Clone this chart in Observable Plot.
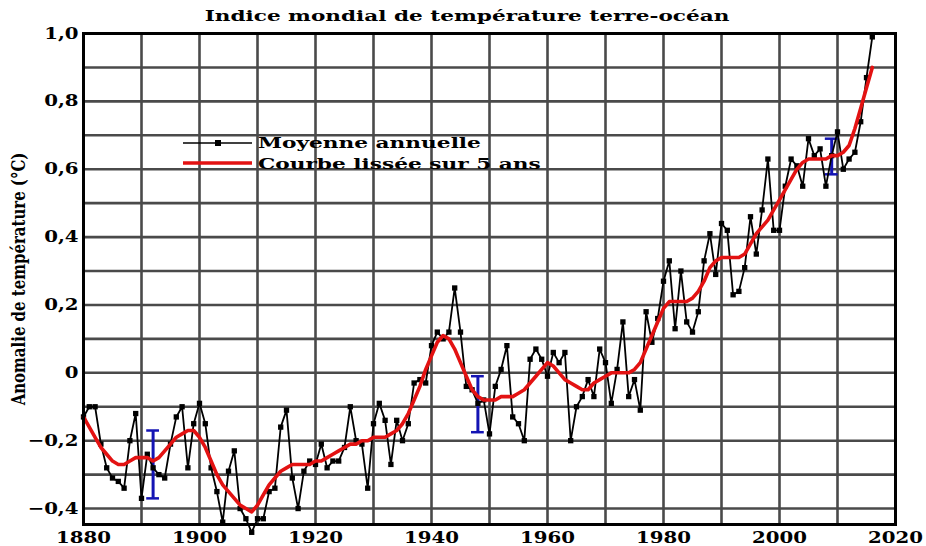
<!DOCTYPE html>
<html><head><meta charset="utf-8">
<script src="https://cdn.jsdelivr.net/npm/d3@7"></script>
<script src="https://cdn.jsdelivr.net/npm/@observablehq/plot@0.6"></script>
<style>
body{margin:0;background:#fff;}
svg{display:block;}
</style>
</head><body><div id="chart"></div>
<script>
const title = "Indice mondial de température terre-océan";
const yLabel = "Anomalie de température (°C)";
const legendLabels = ["Moyenne annuelle", "Courbe lissée sur 5 ans"];

const firstYear = 1880;
// Annual mean anomaly (°C), 1880–2016
const annual = [
  -0.13,-0.10,-0.10,-0.21,-0.28,-0.31,-0.32,-0.34,-0.20,-0.12,
  -0.37,-0.24,-0.28,-0.30,-0.31,-0.21,-0.13,-0.10,-0.28,-0.15,
  -0.09,-0.15,-0.28,-0.35,-0.44,-0.29,-0.23,-0.40,-0.43,-0.47,
  -0.43,-0.43,-0.35,-0.34,-0.16,-0.11,-0.31,-0.40,-0.29,-0.26,
  -0.27,-0.21,-0.28,-0.26,-0.26,-0.22,-0.10,-0.20,-0.21,-0.34,
  -0.15,-0.09,-0.14,-0.27,-0.14,-0.20,-0.15,-0.03,-0.02,-0.03,
   0.08, 0.12, 0.10, 0.12, 0.25, 0.12,-0.04,-0.05,-0.09,-0.08,
  -0.18,-0.04, 0.01, 0.08,-0.13,-0.15,-0.20, 0.04, 0.07, 0.04,
  -0.01, 0.06, 0.03, 0.06,-0.20,-0.10,-0.07,-0.02,-0.07, 0.07,
   0.03,-0.09, 0.01, 0.15,-0.07,-0.02,-0.11, 0.18, 0.09, 0.16,
   0.27, 0.33, 0.13, 0.30, 0.15, 0.12, 0.18, 0.33, 0.41, 0.29,
   0.44, 0.42, 0.23, 0.24, 0.31, 0.46, 0.35, 0.48, 0.63, 0.42,
   0.42, 0.55, 0.63, 0.61, 0.55, 0.69, 0.64, 0.66, 0.55, 0.64,
   0.71, 0.60, 0.63, 0.65, 0.74, 0.87, 0.99
];
// 5-year smoothed curve (°C), 1880–2016
const smooth = [
  -0.13,-0.16,-0.19,-0.22,-0.24,-0.26,-0.27,-0.27,-0.26,-0.25,
  -0.25,-0.25,-0.26,-0.25,-0.23,-0.21,-0.19,-0.18,-0.17,-0.17,
  -0.19,-0.22,-0.26,-0.30,-0.33,-0.35,-0.37,-0.39,-0.40,-0.41,
  -0.39,-0.36,-0.33,-0.31,-0.29,-0.28,-0.27,-0.27,-0.27,-0.27,
  -0.26,-0.26,-0.25,-0.24,-0.23,-0.22,-0.21,-0.21,-0.20,-0.20,
  -0.19,-0.19,-0.19,-0.18,-0.17,-0.15,-0.12,-0.08,-0.04, 0.01,
   0.05, 0.09, 0.11, 0.10, 0.07, 0.03,-0.01,-0.05,-0.07,-0.08,
  -0.08,-0.08,-0.07,-0.07,-0.07,-0.06,-0.05,-0.03,-0.01, 0.01,
   0.03, 0.02, 0.00,-0.02,-0.03,-0.04,-0.05,-0.05,-0.03,-0.02,
  -0.01, 0.00, 0.00, 0.00, 0.00, 0.01, 0.03, 0.07, 0.11, 0.15,
   0.19, 0.21, 0.21, 0.21, 0.21, 0.22, 0.24, 0.27, 0.31, 0.33,
   0.34, 0.34, 0.34, 0.34, 0.35, 0.38, 0.41, 0.43, 0.45, 0.48,
   0.51, 0.54, 0.57, 0.60, 0.62, 0.63, 0.63, 0.63, 0.63, 0.64,
   0.64, 0.65, 0.67, 0.72, 0.78, 0.84, 0.90
];

// Uncertainty bars
const errYears  = [1892, 1948, 2009];
const errLow    = [-0.37, -0.175, 0.585];
const errHigh   = [-0.17, -0.01, 0.69];

// Grid and ticks
const xGrid = [1880,1890,1900,1910,1920,1930,1940,1950,1960,1970,1980,1990,2000,2010,2020];
const yGrid = [-0.4,-0.3,-0.2,-0.1,0,0.1,0.2,0.3,0.4,0.5,0.6,0.7,0.8,0.9,1.0];
const xTicks = [1880,1900,1920,1940,1960,1980,2000,2020];
const xTickLabels = ["1880","1900","1920","1940","1960","1980","2000","2020"];
const yTicks = [-0.4,-0.2,0,0.2,0.4,0.6,0.8,1.0];
const yTickLabels = ["−0,4","−0,2","0","0,2","0,4","0,6","0,8","1,0"];

const data = annual.map((v, i) => ({year: firstYear + i, annual: v, smooth: smooth[i]}));
const errData = errYears.map((y, i) => ({year: y, lo: errLow[i], hi: errHigh[i]}));

const FONT = "DejaVu Serif";
const gridColor = "#4a4a4a";

const chart = Plot.plot({
  width: 926,
  height: 546,
  marginLeft: 83,
  marginRight: 31,
  marginTop: 33,
  marginBottom: 22,
  style: {fontFamily: FONT, fontWeight: "bold", fontSize: "16px", color: "black", background: "white"},
  x: {domain: [1880, 2020], ticks: xTicks, tickFormat: d => xTickLabels[xTicks.indexOf(d)], tickSize: 0, tickPadding: 7, label: null},
  y: {domain: [-0.447, 1.0], ticks: yTicks, tickFormat: d => yTickLabels[yTicks.findIndex(t => Math.abs(t - d) < 1e-9)], tickSize: 0, tickPadding: 5,
      label: yLabel, labelAnchor: "center", labelArrow: "none", labelOffset: 71},
  marks: [
    Plot.ruleX(xGrid, {stroke: gridColor, strokeWidth: 2.6}),
    Plot.ruleY(yGrid, {stroke: gridColor, strokeWidth: 2.6}),
    Plot.ruleX(errData, {x: "year", y1: "lo", y2: "hi", stroke: "#1414b4", strokeWidth: 3}),
    Plot.ruleY(errData, {y: "lo", x1: d => d.year - 1.1, x2: d => d.year + 1.1, stroke: "#1414b4", strokeWidth: 2.5}),
    Plot.ruleY(errData, {y: "hi", x1: d => d.year - 1.1, x2: d => d.year + 1.1, stroke: "#1414b4", strokeWidth: 2.5}),
    Plot.line(data, {x: "year", y: "annual", stroke: "black", strokeWidth: 1.8}),
    Plot.dot(data, {x: "year", y: "annual", symbol: "square", r: 3, fill: "black", stroke: "none"}),
    Plot.line(data, {x: "year", y: "smooth", stroke: "#e31212", strokeWidth: 3.6}),
    Plot.frame({stroke: "black", strokeWidth: 3})
  ]
});

document.getElementById("chart").appendChild(chart);

const svg = d3.select(chart);

// Horizontally scale a text element about its anchor point
function scaleBy(el, sx) {
  let pre = "";
  const xs = el.getAttribute("x");
  if (xs != null && xs !== "" && !isNaN(+xs)) { pre += ` translate(${+xs},0)`; el.removeAttribute("x"); }
  const ys = el.getAttribute("y");
  if (ys != null && ys !== "" && !isNaN(+ys)) { pre += ` translate(0,${+ys})`; el.removeAttribute("y"); }
  const t = el.getAttribute("transform") || "";
  el.setAttribute("transform", `${t}${pre} scale(${sx},1)`);
}
function stretchTo(el, target) {
  const len = el.getComputedTextLength();
  if (len) scaleBy(el, target / len);
}

// Tick labels: widen like the reference's wide slab serif
const tickTexts = svg.selectAll('g[aria-label$="tick label"] text').nodes();
let sxTick = 1.25;
const sample = tickTexts.find(n => n.textContent === "1880");
if (sample && sample.getComputedTextLength()) sxTick = 55 / sample.getComputedTextLength();
tickTexts.forEach(n => scaleBy(n, sxTick));

// Axis label: taller glyphs, condensed along its length
svg.selectAll('g[aria-label="y-axis label"] text').style("font-size", "18px")
  .each(function() { stretchTo(this, 253); });

// Title
const titleEl = svg.append("text")
  .attr("x", 467).attr("y", 21)
  .attr("text-anchor", "middle")
  .style("font-family", FONT).style("font-weight", "bold").style("font-size", "15px")
  .attr("fill", "black")
  .text(title).node();
stretchTo(titleEl, 525);

// Legend
const lg = svg.append("g").attr("aria-label", "legend");
lg.append("line").attr("x1", 183).attr("x2", 252).attr("y1", 143).attr("y2", 143)
  .attr("stroke", "black").attr("stroke-width", 1.6);
lg.append("rect").attr("x", 215).attr("y", 140).attr("width", 6).attr("height", 6).attr("fill", "black");
lg.append("line").attr("x1", 183).attr("x2", 252).attr("y1", 163).attr("y2", 163)
  .attr("stroke", "#e31212").attr("stroke-width", 3.6);
const lt1 = lg.append("text").attr("x", 258).attr("y", 148).attr("text-anchor", "start")
  .style("font-family", FONT).style("font-weight", "bold").style("font-size", "15px")
  .text(legendLabels[0]).node();
const lt2 = lg.append("text").attr("x", 258).attr("y", 169).attr("text-anchor", "start")
  .style("font-family", FONT).style("font-weight", "bold").style("font-size", "15px")
  .text(legendLabels[1]).node();
stretchTo(lt1, 223);
stretchTo(lt2, 283);
</script>
</body></html>
